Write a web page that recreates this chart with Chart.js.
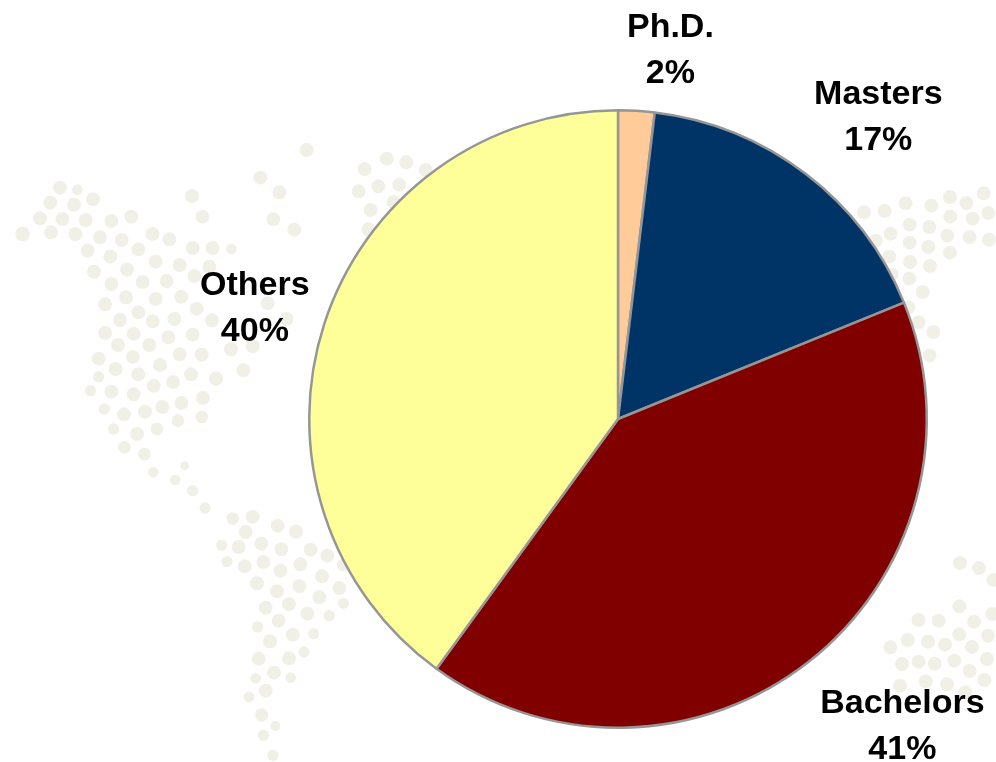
<!DOCTYPE html>
<html>
<head>
<meta charset="utf-8">
<title>Education</title>
<script src="https://cdn.jsdelivr.net/npm/chart.js@4"></script>
<style>
  html, body { margin: 0; padding: 0; background: #fff; }
  #wrap { position: relative; width: 996px; height: 762px; overflow: hidden; }
</style>
</head>
<body>
<div id="wrap"><canvas id="myChart"></canvas></div>
<script>
// Chart data
const categories = ['Ph.D.', 'Masters', 'Bachelors', 'Others'];
const shares = [1.9, 16.95, 41.15, 40];
const sliceColors = ['#FFCC99', '#003366', '#800000', '#FFFF99'];

// Label nudge from the middle of each slice's outer edge
const labelNudge = [[34, -60.5], [73, -56], [94, 65], [-69.5, -15]];

// Faded world map behind the pie, traced in 3x crops: [left, top, [x, y, r]...]
const mapDots = [
  [0, 120, [[180,203,20],[232,209,15],[151,248,20],[222,254,20],[279,238,20],[120,295,20],[187,297,20],[257,300,20],[334,303,20],[394,290,20],[68,342,21],[153,337,20],[226,342,20],[300,352,20],[365,360,20],[458,342,20],[508,358,20],[263,392,20],[331,410,20],[415,388,20],[578,384,20],[638,384,20],[694,387,15],[282,455,20],[381,449,20],[467,425,20],[539,435,20],[628,440,20],[334,492,20],[428,486,20],[500,483,20],[583,468,20],[315,553,20],[378,532,20],[467,537,20],[544,530,20],[590,566,20],[803,550,20],[360,600,20],[415,577,20],[458,604,20],[523,597,20],[636,601,20],[860,597,20],[315,639,20],[401,641,20],[505,652,20],[578,644,20],[354,675,20],[448,675,20],[693,688,20],[758,678,20],[296,716,20],[399,711,20],[539,703,20],[605,704,20],[347,747,20],[480,735,20],[730,750,20],[296,770,16],[415,763,20],[573,763,20],[648,776,20],[271,812,16],[334,815,20],[461,797,20],[519,786,20],[401,823,20],[609,834,20],[313,867,16],[372,883,20],[435,875,20],[487,861,20],[544,849,20],[341,927,16],[411,942,20],[471,927,18],[534,902,18],[605,891,18],[920,90,20],[781,173,20],[838,217,20],[576,228,20],[607,290,20],[820,298,20],[883,329,20]]],
  [120, 440, [[13,22,18],[73,42,18],[100,97,15],[194,77,12],[166,120,15],[218,152,16],[255,204,16],[338,236,18],[398,230,20],[473,257,20],[528,275,20],[377,276,20],[305,316,16],[356,321,20],[424,311,20],[484,328,20],[572,329,20],[622,347,20],[321,365,16],[374,379,20],[430,366,20],[481,392,20],[541,373,20],[670,375,18],[411,430,20],[471,454,20],[538,438,20],[606,409,20],[658,444,20],[437,503,20],[507,492,20],[598,472,20],[670,490,16],[476,542,20],[562,521,20],[628,527,16],[413,561,16],[518,584,20],[581,581,16],[450,604,20],[416,656,20],[507,655,20],[552,636,16],[462,698,20],[407,715,15],[512,713,15],[437,752,20],[387,771,15],[425,825,19],[466,858,14],[430,886,16],[459,946,16]]],
  [840, 170, [[72,127,20],[134,123,20],[197,100,20],[274,107,20],[330,81,20],[379,99,20],[431,70,20],[445,129,20],[331,140,20],[398,146,20],[209,164,20],[268,171,20],[152,191,20],[107,212,20],[209,218,20],[265,231,20],[322,197,20],[389,201,20],[447,209,20],[330,248,20],[148,260,20],[210,276,20],[270,288,20],[155,314,20],[208,326,20],[248,366,20],[205,412,20],[236,457,20],[280,486,20],[269,557,20]]],
  [860, 540, [[300,69,20],[357,84,20],[400,120,20],[298,199,20],[175,240,20],[236,242,20],[342,245,20],[397,222,20],[143,300,20],[204,305,20],[298,283,20],[384,287,20],[91,322,20],[255,314,20],[336,321,20],[126,372,20],[176,365,20],[224,371,20],[283,362,20],[381,357,20],[329,393,20],[373,420,20],[120,437,20],[197,424,20],[261,433,20],[316,457,20]]],
  [280, 0, [[320,476,20],[379,487,20],[254,507,20],[437,510,20],[295,559,20],[358,554,20],[236,574,20],[341,606,20],[272,630,20],[265,688,20]]]
];

// Draws the map dots under the pie
const mapBackground = {
  id: 'mapBackground',
  beforeDraw(chart) {
    const c = chart.ctx;
    c.save();
    c.fillStyle = '#F0F0E6';
    mapDots.forEach(([left, top, dots]) => {
      dots.forEach(([x, y, r]) => {
        c.beginPath();
        c.arc(left + x / 3, top + y / 3, r / 3 + 0.3, 0, Math.PI * 2);
        c.fill();
      });
    });
    c.restore();
  }
};

// Two line bold labels: name and percentage
const sliceLabels = {
  id: 'sliceLabels',
  afterDraw(chart) {
    const c = chart.ctx;
    c.save();
    c.fillStyle = '#000';
    c.font = 'bold 34px "Liberation Sans", Arial, sans-serif';
    c.textAlign = 'center';
    c.textBaseline = 'middle';
    chart.getDatasetMeta(0).data.forEach((arc, i) => {
      const mid = (arc.startAngle + arc.endAngle) / 2;
      const x = arc.x + Math.cos(mid) * arc.outerRadius + labelNudge[i][0];
      const y = arc.y + Math.sin(mid) * arc.outerRadius + labelNudge[i][1];
      c.fillText(categories[i], x, y - 23);
      c.fillText(Math.round(shares[i]) + '%', x, y + 23);
    });
    c.restore();
  }
};

const ctx = document.getElementById('myChart').getContext('2d');

const myChart = new Chart(ctx, {
  type: 'pie',
  data: {
    labels: categories,
    datasets: [{
      data: shares,
      backgroundColor: sliceColors,
      borderColor: '#969696',
      borderWidth: 2.5
    }]
  },
  options: {
    responsive: true,
    maintainAspectRatio: false,
    animation: false,
    layout: { padding: { left: 308, top: 109, right: 68, bottom: 33 } },
    plugins: { legend: { display: false }, tooltip: { enabled: false } }
  },
  plugins: [mapBackground, sliceLabels]
});
</script>
</body>
</html>
